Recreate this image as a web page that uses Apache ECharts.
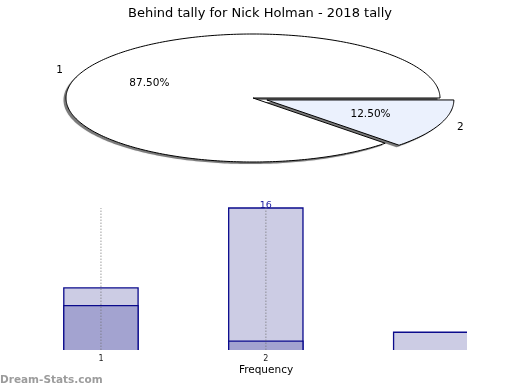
<!DOCTYPE html>
<html><head><meta charset="utf-8">
<script src="https://cdn.jsdelivr.net/npm/echarts@6/dist/echarts.min.js"></script>
<style>html,body{margin:0;padding:0;background:#fff}#c{width:520px;height:390px}</style>
</head><body><div id="c"></div>
<script>
const titleText = 'Behind tally for Nick Holman - 2018 tally';
const pieNames = ['1', '2'];
const pieValues = [7, 1];
const barX = [1, 2, 3];
const barTotals = [7, 16, 2];
const barInner = [5, 1, 0];
const xTickLabels = [1, 2];
const xAxisTitle = 'Frequency';
const watermark = 'Dream-Stats.com';

const FONT = 'DejaVu Sans';
const CX = 253, CY = 98, RX = 187, RY = 64;
const total = pieValues.reduce((a, b) => a + b, 0);
const cum = []; let acc = 0;
pieValues.forEach(v => { cum.push(acc); acc += v; });
const explode = [0, 15];
const fills = ['#ffffff', '#ebf1fd'];
const BAR_W = 74.3;
const BORDER = '#0a0a8c';
const maxTotal = Math.max(...barTotals);

function slicePoints(cx, cy, a0, a1) {
  const pts = [[cx, cy]];
  const n = Math.max(8, Math.ceil((a1 - a0) / (Math.PI / 180)));
  for (let k = 0; k <= n; k++) {
    const a = a0 + (a1 - a0) * k / n;
    pts.push([cx + RX * Math.cos(a), cy + RY * Math.sin(a)]);
  }
  return pts;
}

function renderPie(params, api) {
  const i = params.dataIndex;
  const v = api.value(1);
  const a0 = -(cum[i] + v) / total * 2 * Math.PI;
  const a1 = -cum[i] / total * 2 * Math.PI;
  const mid = (a0 + a1) / 2;
  const cx = CX + explode[i] * Math.cos(mid);
  const cy = CY + explode[i] * Math.sin(mid) * RY / RX;
  const pct = (v / total * 100).toFixed(2) + '%';
  const pts = slicePoints(cx, cy, a0, a1);
  return {
    type: 'group',
    children: [
      {
        type: 'polygon', shape: { points: pts }, x: -2.5, y: 2, z2: 0,
        style: { fill: 'rgba(0,0,0,0.45)', shadowColor: 'rgba(0,0,0,0.3)', shadowBlur: 1.5 }
      },
      {
        type: 'polygon', shape: { points: pts }, z2: 1,
        style: { fill: fills[i], stroke: '#000', lineWidth: 1, lineJoin: 'miter' }
      },
      {
        type: 'text', z2: 2,
        x: cx + 0.6 * RX * Math.cos(mid), y: cy + 0.6 * RY * Math.sin(mid),
        style: { text: pct, fill: '#000', font: '10.5px "DejaVu Sans"', align: 'center', verticalAlign: 'middle' }
      },
      {
        type: 'text', z2: 2,
        x: cx + 1.12 * RX * Math.cos(mid), y: cy + 1.12 * RY * Math.sin(mid),
        style: { text: pieNames[i], fill: '#000', font: '10.5px "DejaVu Sans"', align: 'center', verticalAlign: 'middle' }
      }
    ]
  };
}

function makeBarRender(fill, withLabel) {
  return function (params, api) {
    const x = api.value(0), v = api.value(1);
    if (!(v > 0)) return null;
    const base = api.coord([x, 0]);
    const top = api.coord([x, v]);
    const cs = params.coordSys;
    const half = BAR_W / 2;
    const l = base[0] - half, r = base[0] + half;
    const right = cs.x + cs.width;
    const cl = Math.max(l, cs.x), cr = Math.min(r, right);
    const t = top[1], b = base[1];
    const pts = [];
    if (l >= cs.x) pts.push([cl, b]);
    pts.push([cl, t], [cr, t]);
    if (r <= right) pts.push([cr, b]);
    const children = [
      { type: 'rect', shape: { x: cl, y: t, width: cr - cl, height: b - t }, style: { fill: fill } },
      { type: 'polyline', shape: { points: pts }, style: { stroke: BORDER, lineWidth: 1.3, fill: null } }
    ];
    if (withLabel && v === maxTotal) {
      children.unshift({
        type: 'text', x: base[0], y: t + 2.5,
        style: { text: String(v), fill: '#1a1aa0', font: '9.5px "DejaVu Sans"', align: 'center', verticalAlign: 'bottom' }
      });
    }
    return { type: 'group', children: children };
  };
}

function renderGridLine(params, api) {
  const x = api.value(0);
  const p0 = api.coord([x, 0]);
  const p1 = api.coord([x, maxTotal]);
  return {
    type: 'line', shape: { x1: p0[0], y1: p0[1], x2: p1[0], y2: p1[1] },
    style: { stroke: 'rgba(110,110,110,0.45)', lineWidth: 1.5, lineDash: [1.5, 1.5] }
  };
}

const chart = echarts.init(document.getElementById('c'), null, { renderer: 'canvas' });
chart.setOption({
  animation: false,
  backgroundColor: '#fff',
  textStyle: { fontFamily: FONT },
  title: {
    text: titleText, left: 'center', top: 2,
    textStyle: { fontFamily: FONT, fontSize: 13, fontWeight: 'normal', color: '#000' }
  },
  grid: { left: 18.5, right: 53, top: 208, bottom: 40 },
  xAxis: {
    type: 'value', min: 0.5, max: 3.22,
    axisLine: { show: false }, axisTick: { show: false }, splitLine: { show: false },
    axisLabel: {
      customValues: xTickLabels,
      fontSize: 8, color: '#222', margin: 4.5, fontFamily: FONT,
      formatter: v => (xTickLabels.indexOf(v) >= 0 ? String(v) : '')
    }
  },
  yAxis: { type: 'value', min: 0, max: maxTotal, show: false },
  graphic: [
    { type: 'text', x: 266, y: 370, style: { text: xAxisTitle, font: '10.5px "DejaVu Sans"', fill: '#000', align: 'center', verticalAlign: 'middle' } },
    { type: 'text', x: 0, y: 380, style: { text: watermark, font: 'bold 10.5px "DejaVu Sans"', fill: '#9c9c9c', align: 'left', verticalAlign: 'middle' } }
  ],
  series: [
    {
      type: 'custom', coordinateSystem: 'none', renderItem: renderPie,
      data: pieNames.map((n, i) => [i, pieValues[i]])
    },
    {
      type: 'custom', renderItem: makeBarRender('#ccccE4', true), z: 2,
      data: barX.map((x, i) => [x, barTotals[i]])
    },
    {
      type: 'custom', renderItem: makeBarRender('#a3a3d0', false), z: 3,
      data: barX.map((x, i) => [x, barInner[i]])
    },
    {
      type: 'custom', renderItem: renderGridLine, z: 4, silent: true,
      data: xTickLabels.map(x => [x])
    }
  ]
});
</script>
</body></html>
